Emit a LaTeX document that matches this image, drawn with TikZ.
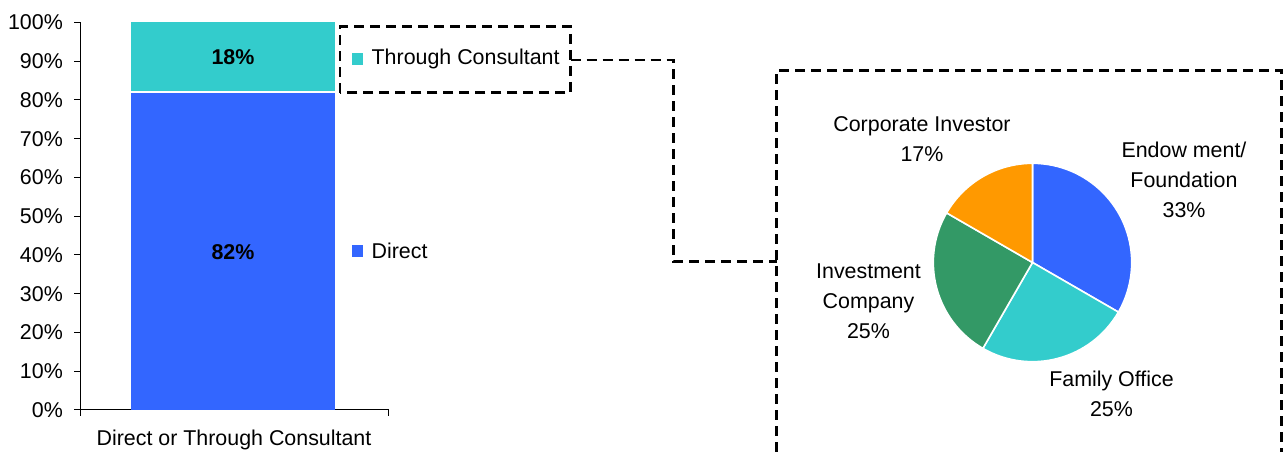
\documentclass[tikz,border=0pt]{standalone}
\usepackage{fontspec}
\setmainfont{Liberation Sans}
\usetikzlibrary{positioning}
\definecolor{directblue}{HTML}{3366FF}
\definecolor{consultteal}{HTML}{33CCCC}
\definecolor{companygreen}{HTML}{339966}
\definecolor{corporateorange}{HTML}{FF9900}
\tikzset{
  lbl/.style={font=\fontsize{21.4}{30}\selectfont, align=center, inner sep=0pt},
  keybox/.style={minimum size=11.5pt, inner sep=0pt},
  callout/.style={line width=2.7pt, dash pattern=on 10pt off 6pt},
  axisline/.style={line width=1pt},
  slice/.style={draw=white, line width=1.6pt, line join=round},
}
\begin{document}
\begin{tikzpicture}[x=1pt,y=1pt]
    \useasboundingbox (0,0) rectangle (1284,452);

    % The axes
    \draw[axisline] (80,429.5) -- (80,36);
    \draw[axisline] (80,42) -- (388,42) -- (388,36);
    \foreach \k in {0,...,10} {
        \draw[axisline] (74,{42+38.75*\k}) -- (80,{42+38.75*\k});
        \node[lbl, anchor=east] (tick\k) at (63,{42+38.75*\k}) {\the\numexpr\k*10\relax\%};
    }
    \node[lbl, anchor=base] (category) at (234,6.3) {Direct or Through Consultant};

    % The stacked bar
    \fill[directblue] (131,42) rectangle (335,359.8);
    \fill[consultteal] (131,359.8) rectangle (335,429.5);
    \draw[white, line width=1.5pt] (131,359.8) -- (335,359.8);
    \node[lbl] (directpct) at (233,199.5) {\bfseries 82\%};
    \node[lbl] (consultpct) at (233,395) {\bfseries 18\%};

    % Legend
    \node[keybox, fill=consultteal] (consultkey) at (357.5,392.8) {};
    \node[lbl, right=8pt of consultkey] (consulttext) {Through Consultant};
    \node[keybox, fill=directblue] (directkey) at (357.5,200.8) {};
    \node[lbl, right=8pt of directkey] (directtext) {Direct};

    % Callout from the consultant entry to the pie
    \draw[callout] (340,359.3) rectangle (570.7,425.3);
    \coordinate (calloutout) at (570.7,392);
    \coordinate (piein) at (776.7,190.3);
    \draw[callout] (calloutout) -| (673.3,190.3) -- (piein);
    \draw[callout] (776.7,0) |- (1281.7,381.3) -- (1281.7,0);

    % The pie of consultant clients
    \coordinate (piecenter) at (1032.5,189.5);
    \foreach \a/\b/\c in {90/-30/directblue, -30/-120/consultteal,
                          -120/-210/companygreen, -210/-270/corporateorange}
        \filldraw[slice, fill=\c] (piecenter) -- ++(\a:99.2)
            arc[start angle=\a, end angle=\b, radius=99.2] -- cycle;

    \node[lbl] (corporate) at (922,313) {Corporate Investor\\17\%};
    \node[lbl] (endowment) at (1184,272.3) {Endow ment/\\Foundation\\33\%};
    \node[lbl] (investment) at (868.5,151.2) {Investment\\Company\\25\%};
    \node[lbl] (family) at (1111.5,57.8) {Family Office\\25\%};
\end{tikzpicture}
\end{document}
